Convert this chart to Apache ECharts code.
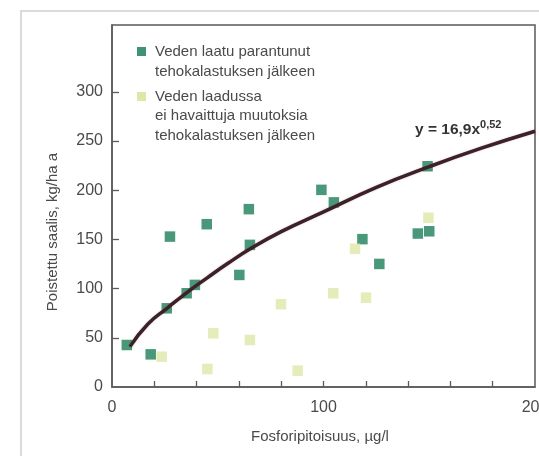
<!DOCTYPE html>
<html>
<head>
<meta charset="utf-8">
<script src="https://cdn.jsdelivr.net/npm/echarts@6/dist/echarts.min.js"></script>
<style>
html,body{margin:0;padding:0;background:#fff;}
#chart{width:539px;height:456px;}
</style>
</head>
<body>
<div id="chart"></div>
<script>
// Series: water quality improved after intensive fishing (dark green)
const improved = [
  [7.0, 42.7], [18.3, 33.2], [25.9, 80], [27.4, 152.9], [35.3, 95.3],
  [39.2, 103.8], [44.8, 165.5], [60.2, 113.9], [64.7, 180.8], [65.2, 144.5],
  [99.0, 200.4], [104.9, 187.7], [118.4, 150.3], [126.4, 125.1],
  [144.6, 156], [150, 158.3], [149.2, 224.4]
];
// Series: no observed change in water quality (light yellow-green)
const noChange = [
  [23.5, 30.8], [45.1, 18.3], [47.9, 54.6], [65.2, 47.8], [79.9, 84.1],
  [87.8, 16.6], [104.6, 95.3], [114.9, 140.5], [120.1, 90.8], [149.6, 172.1]
];
// Fitted curve y = 16,9x^0,52 as drawn in the picture
const curve = [
  [8.5, 41], [17, 64], [26, 80], [36, 97], [45, 111], [55, 126], [65, 140],
  [80, 158], [100, 178], [125, 203], [150, 224], [175, 243], [200, 260]
];
const xTickValues = [20, 40, 60, 80, 100, 120, 140, 160, 180];
const xTickLabels = [0, 100, 200];
const yTickValues = [50, 100, 150, 200, 250, 300];
const yTickLabels = [0, 50, 100, 150, 200, 250, 300];

const seriesNames = ['Veden laatu parantunut\ntehokalastuksen jälkeen',
                     'Veden laadussa\nei havaittuja muutoksia\ntehokalastuksen jälkeen'];
const xName = 'Fosforipitoisuus, µg/l';
const yName = 'Poistettu saalis, kg/ha a';

const FONT = '"Liberation Sans", Arial, sans-serif';
const TXT = '#4a4a4a';
const DARK = '#3f9273';
const LIGHT = '#dfe7a8';

const chart = echarts.init(document.getElementById('chart'));
chart.setOption({
  backgroundColor: '#fff',
  animation: false,
  grid: {left: 112, top: 25, right: 4, bottom: 69, show: true,
         outerBoundsMode: 'none', containLabel: false,
         borderColor: '#5a5a5a', borderWidth: 1.5, backgroundColor: 'transparent'},
  xAxis: {
    type: 'value', min: 0, max: 200,
    axisLine: {show: true, lineStyle: {color: '#5a5a5a', width: 1.5}},
    axisTick: {show: true, inside: true, length: 6, customValues: xTickValues,
               lineStyle: {color: '#5a5a5a', width: 1.3}},
    axisLabel: {customValues: xTickLabels, margin: 13, fontSize: 16,
                color: TXT, fontFamily: FONT},
    splitLine: {show: false}
  },
  yAxis: {
    type: 'value', min: 0, max: 368,
    axisLine: {show: true, lineStyle: {color: '#5a5a5a', width: 1.5}},
    axisTick: {show: true, inside: true, length: 7, customValues: yTickValues,
               lineStyle: {color: '#5a5a5a', width: 1.3}},
    axisLabel: {customValues: yTickLabels, margin: 9, fontSize: 16,
                color: TXT, fontFamily: FONT},
    splitLine: {show: false}
  },
  series: [
    {name: seriesNames[0], type: 'scatter', data: improved, symbol: 'rect',
     symbolSize: 10.5, itemStyle: {color: DARK, opacity: 0.95}, z: 2},
    {name: seriesNames[1], type: 'scatter', data: noChange, symbol: 'rect',
     symbolSize: 10.5, itemStyle: {color: LIGHT}, z: 2},
    {name: 'y = 16,9x^0,52', type: 'line', data: curve, smooth: 0.5,
     showSymbol: false, symbol: 'none',
     lineStyle: {color: '#3b2128', width: 3.5, shadowColor: 'rgba(150,60,80,0.35)', shadowBlur: 2},
     z: 3}
  ],
  graphic: [
    {type: 'rect', shape: {x: 21, y: 11, width: 700, height: 700},
     style: {fill: 'none', stroke: '#cfcfcf', lineWidth: 1.5}, silent: true, z: -1},
    {type: 'rect', shape: {x: 137, y: 47, width: 9, height: 9}, style: {fill: DARK}},
    {type: 'rect', shape: {x: 137, y: 92, width: 9, height: 9}, style: {fill: LIGHT}},
    {type: 'text', x: 155, y: 42, style: {text: seriesNames[0], fontSize: 15,
     lineHeight: 20, fill: TXT, fontFamily: FONT}},
    {type: 'text', x: 155, y: 87, style: {text: seriesNames[1], fontSize: 15,
     lineHeight: 19.5, fill: TXT, fontFamily: FONT}},
    {type: 'text', x: 415, y: 130, style: {
      text: '{a|y = 16,9x}{b|0,52}', verticalAlign: 'middle', fontFamily: FONT,
      rich: {a: {fontSize: 15.5, fill: '#333', fontWeight: 'bold', fontFamily: FONT},
             b: {fontSize: 11, fill: '#333', fontWeight: 'bold', fontFamily: FONT,
                 verticalAlign: 'top', padding: [0, 0, 10, 0]}}}},
    {type: 'text', x: 320, y: 437, style: {text: xName, fontSize: 15, fill: TXT,
     fontFamily: FONT, align: 'center', verticalAlign: 'middle'}},
    {type: 'text', x: 53, y: 232, rotation: Math.PI / 2, style: {text: yName,
     fontSize: 15, fill: TXT, fontFamily: FONT, align: 'center', verticalAlign: 'middle'}}
  ]
});
</script>
</body>
</html>
